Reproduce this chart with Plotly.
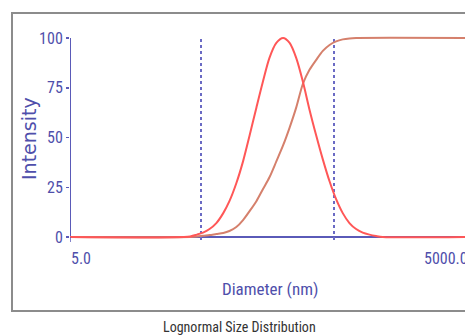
import math
import plotly.graph_objects as go

# ---- data ----
dist_d = [5, 40, 45, 50, 56, 63, 71, 79, 89, 100, 112, 126, 141, 158, 178, 200, 224, 251, 282, 316,
          355, 398, 447, 501, 562, 631, 708, 794, 891, 1000, 1122, 5000]
dist_I = [0, 0.3, 1.2, 2.2, 4, 7, 12, 18, 27, 38, 51, 65, 78, 90, 97.5, 100, 97.5, 90, 78, 64,
          51, 39, 28, 19, 12, 7, 4, 2.2, 1.2, 0.5, 0, 0]

cum_d = [5, 40, 45, 50, 56, 63, 71, 79, 89, 100, 112, 126, 141, 158, 178, 200, 224, 251, 282, 316,
         355, 398, 447, 501, 562, 631, 708, 5000]
cum_I = [0, 0, 0.2, 0.6, 1.0, 1.5, 2.0, 3.0, 5, 8.5, 13, 18, 24, 30, 38, 46, 55, 65, 77, 84,
         89, 93.5, 96.5, 98.3, 99.3, 99.8, 100, 100]

limits_d = [48.3, 483]          # dotted markers
y_ticks = [0, 25, 50, 75, 100]
x_labels = ["5.0", "5000.0"]

BLUE = "#4f4fab"
AXBLUE = "#5a5ab8"
RED = "#ff5757"
BROWN = "#d5806c"
NARROW = "Liberation Sans Narrow, Arial Narrow, Roboto Condensed, sans-serif"

W, H = 465, 336
L, R, T, B = 70, 465, 30, 245
def px(x):   # screen x -> paper
    return (x - L) / (R - L)
def py(y):   # screen y -> paper
    return (B - y) / (B - T)

Y0 = 237             # pixel of y=0
PPU = 1.99           # pixels per intensity unit
PPD = 133.0          # pixels per decade

fig = go.Figure()
fig.add_trace(go.Scatter(x=cum_d, y=cum_I, mode="lines",
                         line=dict(color=BROWN, width=2, shape="spline", smoothing=0.8),
                         hoverinfo="skip", showlegend=False))
fig.add_trace(go.Scatter(x=dist_d, y=dist_I, mode="lines",
                         line=dict(color=RED, width=2, shape="spline", smoothing=0.8),
                         hoverinfo="skip", showlegend=False))

shapes = []
shapes.append(dict(type="line", xref="x", yref="y", x0=5, x1=100000, y0=0, y1=0,
                   line=dict(color=AXBLUE, width=2), layer="below"))
shapes.append(dict(type="line", xref="x", yref="y", x0=5, x1=5, y0=0, y1=100,
                   line=dict(color=AXBLUE, width=2), layer="below"))
shapes.append(dict(type="line", xref="x", yref="y", x0=5, x1=5, y0=0, y1=-2.5,
                   line=dict(color=AXBLUE, width=1.5)))
for d in limits_d:
    shapes.append(dict(type="line", xref="x", yref="y", x0=d, x1=d, y0=-1.5, y1=100,
                       line=dict(color="#6a6ac4", width=2, dash="dot"), layer="below"))
shapes.append(dict(type="rect", xref="paper", yref="paper",
                   x0=px(12), x1=px(490), y0=py(311), y1=py(13),
                   line=dict(color="#8c8c8c", width=2), fillcolor="rgba(0,0,0,0)"))

annotations = [
    dict(text=x_labels[0], xref="paper", yref="paper", x=px(69), y=py(258),
         xanchor="left", yanchor="middle", showarrow=False,
         font=dict(family=NARROW, size=16, color=BLUE)),
    dict(text=x_labels[1], xref="paper", yref="paper", x=px(422), y=py(258),
         xanchor="left", yanchor="middle", showarrow=False,
         font=dict(family=NARROW, size=16, color=BLUE)),
    dict(text="Diameter (nm)", xref="paper", yref="paper", x=px(270), y=py(289),
         xanchor="center", yanchor="middle", showarrow=False,
         font=dict(family=NARROW, size=17, color=BLUE)),
    dict(text="Intensity", xref="paper", yref="paper", x=px(29), y=py(139),
         xanchor="center", yanchor="middle", showarrow=False, textangle=-90,
         font=dict(family="DejaVu Sans", size=19, color=BLUE)),
    dict(text="Lognormal Size Distribution", xref="paper", yref="paper", x=px(239), y=py(327),
         xanchor="center", yanchor="middle", showarrow=False,
         font=dict(family=NARROW, size=14, color="#333333")),
]

fig.update_layout(
    width=W, height=H,
    margin=dict(l=L, r=W - R, t=T, b=H - B, pad=0),
    paper_bgcolor="white", plot_bgcolor="white",
    shapes=shapes, annotations=annotations,
    xaxis=dict(type="log", range=[math.log10(5), math.log10(5) + (R - L) / PPD],
               showgrid=False, zeroline=False, showline=False, showticklabels=False, ticks=""),
    yaxis=dict(range=[(Y0 - B) / PPU, (Y0 - T) / PPU], tickvals=y_ticks,
               showgrid=False, zeroline=False, showline=False,
               ticks="outside", ticklen=3, tickwidth=1.5, tickcolor=AXBLUE,
               tickfont=dict(family=NARROW, size=16, color=BLUE)),
)

fig.write_html("out.html",
               config={"displayModeBar": False, "staticPlot": True},
               post_script="document.body.style.margin='0';"
                           "document.body.style.overflow='hidden';"
                           "document.documentElement.style.overflow='hidden';")
